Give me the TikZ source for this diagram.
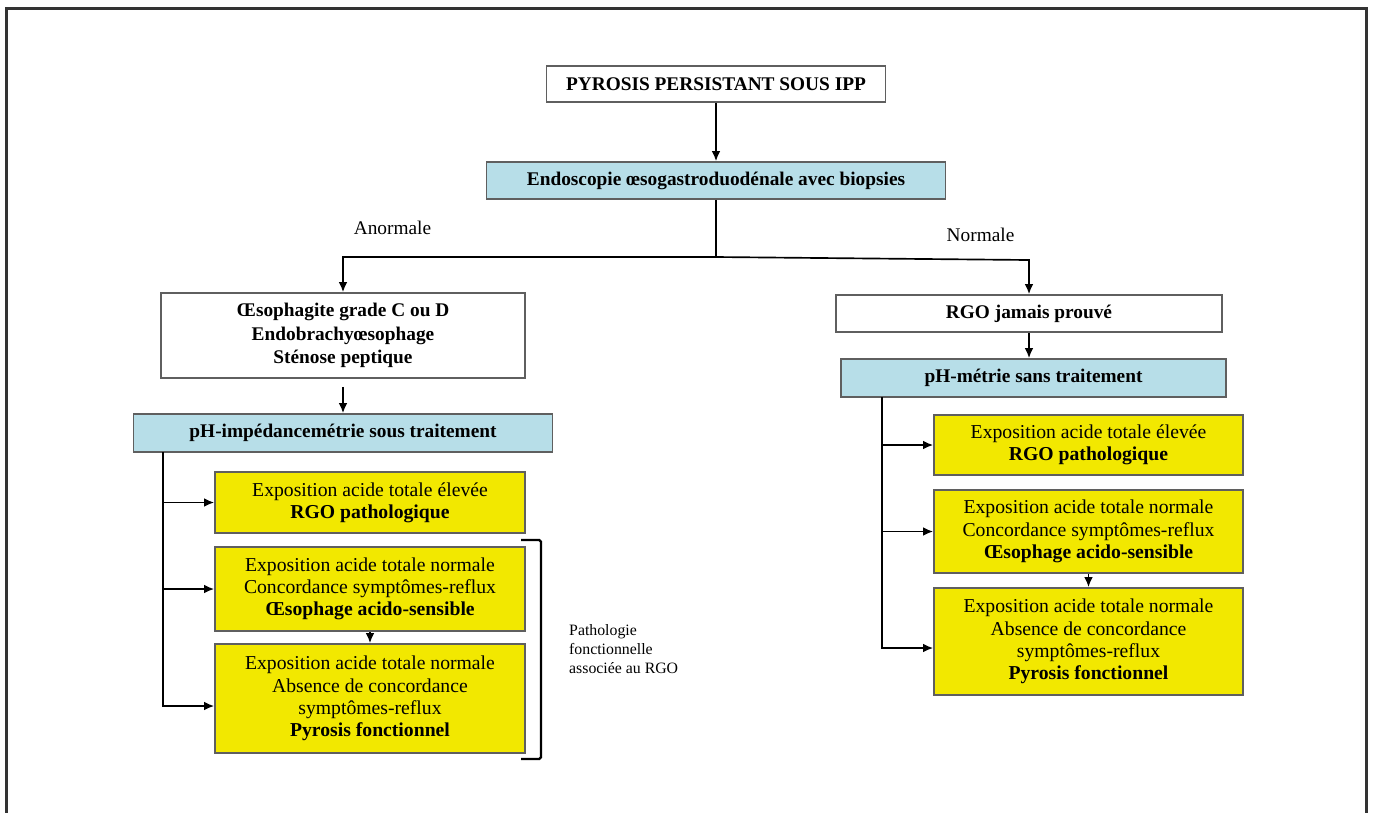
\documentclass[tikz,border=0pt]{standalone}
\usepackage{fontspec}
\setmainfont{Liberation Serif}
\usetikzlibrary{arrows.meta}
\definecolor{boxblue}{RGB}{183,222,232}
\definecolor{boxyellow}{RGB}{242,232,0}
\definecolor{boxline}{RGB}{95,95,95}

\begin{document}
\begin{tikzpicture}[
  font=\fontsize{11}{12.5}\selectfont,
  headbox/.style={draw=boxline, line width=0.9pt, fill=white, align=center,
    font=\fontsize{11}{13.5}\selectfont\bfseries},
  bluebox/.style={headbox, fill=boxblue},
  yellowbox/.style={draw=boxline, line width=0.9pt, fill=boxyellow, align=center,
    minimum width=6.2cm, font=\fontsize{11.2}{12.7}\selectfont},
  link/.style={line width=0.95pt, -{Latex[length=2mm,width=1.7mm]}},
  plain/.style={line width=0.95pt}
]
\useasboundingbox (0,0) rectangle (27.46,-16.24);
% frame
\draw[line width=1.2pt, black!80] (0.13,-16.5) -- (0.13,-0.17) -- (27.33,-0.17) -- (27.33,-16.5);

% top
\node[headbox, minimum width=6.78cm, minimum height=0.72cm] (pyrosis) at (14.32,-1.68) {PYROSIS PERSISTANT SOUS IPP};
\node[bluebox, minimum width=9.18cm, minimum height=0.74cm] (endo) at (14.32,-3.61) {Endoscopie œsogastroduodénale avec biopsies};
\node (anormale) at (7.85,-4.56) {Anormale};
\node (normale) at (19.61,-4.70) {Normale};

% left branch
\node[headbox, minimum width=7.28cm, minimum height=1.70cm] (lesions) at (6.86,-6.71) {Œsophagite grade C ou D\\Endobrachyœsophage\\Sténose peptique};
\node[bluebox, minimum width=8.38cm, minimum height=0.76cm] (phimp) at (6.86,-8.66) {pH-impédancemétrie sous traitement};
\node[yellowbox, minimum height=1.22cm] (lhigh) at (7.40,-10.05) {Exposition acide totale élevée\\\textbf{RGO pathologique}};
\node[yellowbox, minimum height=1.68cm] (lsens) at (7.40,-11.78) {Exposition acide totale normale\\Concordance symptômes-reflux\\\textbf{Œsophage acido-sensible}};
\node[yellowbox, minimum height=2.18cm] (lfunc) at (7.40,-13.97) {Exposition acide totale normale\\Absence de concordance\\symptômes-reflux\\\textbf{Pyrosis fonctionnel}};
\node[anchor=west, align=left, font=\fontsize{9}{11}\selectfont] (pathlbl) at (11.26,-12.98) {Pathologie\\fonctionnelle\\associée au RGO};

% right branch
\node[headbox, minimum width=7.72cm, minimum height=0.74cm] (rgo) at (20.58,-6.27) {RGO jamais prouvé};
\node[bluebox, minimum width=7.70cm, minimum height=0.76cm] (phm) at (20.67,-7.56) {pH-métrie sans traitement};
\node[yellowbox, minimum width=6.18cm, minimum height=1.20cm] (rhigh) at (21.77,-8.90) {Exposition acide totale élevée\\\textbf{RGO pathologique}};
\node[yellowbox, minimum width=6.18cm, minimum height=1.66cm] (rsens) at (21.77,-10.63) {Exposition acide totale normale\\Concordance symptômes-reflux\\\textbf{Œsophage acido-sensible}};
\node[yellowbox, minimum width=6.18cm, minimum height=2.14cm] (rfunc) at (21.77,-12.83) {Exposition acide totale normale\\Absence de concordance\\symptômes-reflux\\\textbf{Pyrosis fonctionnel}};

% connectors
\coordinate (fork) at (14.32,-5.14);
\coordinate (normturn) at (20.58,-5.20);
\coordinate (ltrunk) at (3.26,-9.04);
\coordinate (rtrunk) at (17.64,-7.94);
\draw[link] (pyrosis) -- (endo);
\draw[plain] (endo) -- (fork);
\draw[link] (fork) -| (lesions);
\draw[link] (fork) -- (normturn) -- (rgo);
\draw[link, shorten <=0.16cm] (lesions) -- (phimp);
\draw[link] (rgo.south) -- (rgo.south |- phm.north);
\draw[link] (ltrunk) |- (lhigh.west);
\draw[link] (ltrunk) |- (lsens.west);
\draw[link] (ltrunk) |- ([yshift=-0.15cm]lfunc.west);
\draw[link] (lsens) -- (lfunc);
\draw[link] (rtrunk) |- (rhigh.west);
\draw[link] (rtrunk) |- (rsens.west);
\draw[link] (rtrunk) |- ([yshift=-0.13cm]rfunc.west);
\draw[link] (rsens) -- (rfunc);

% bracket
\draw[line width=1.3pt, rounded corners=1pt] (10.42,-10.80) -- (10.82,-10.80) -- (10.82,-15.18) -- (10.42,-15.18);
\end{tikzpicture}
\end{document}
